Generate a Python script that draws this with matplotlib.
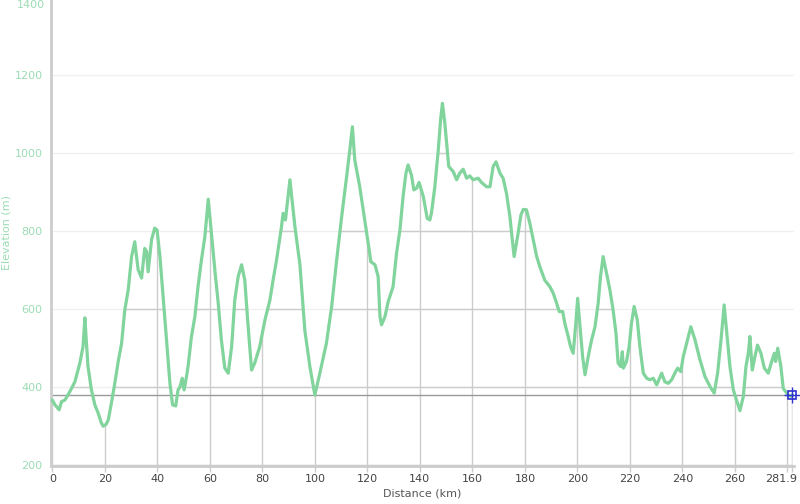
import numpy as np
import matplotlib
matplotlib.use("Agg")
import matplotlib.pyplot as plt
from matplotlib.patches import Polygon
import matplotlib.transforms as mtransforms

distance_km = [0, 1, 2.6, 3.5, 4.8, 6.7, 8.6, 10.5, 11.7, 12.4, 13.0, 13.6, 14.9, 16.2, 17.5,
               18.7, 19.4, 20.5, 21.3, 22.5, 23.8, 25.1, 26.4, 27.6, 28.9, 30.2, 31.4, 32.7,
               34.0, 35.2, 35.9, 36.5, 37.8, 39.0, 39.9, 41.0, 42.2, 43.5, 44.8, 45.8, 47.0,
               47.9, 48.6, 49.5, 50.2, 51.1, 51.7, 53.0, 54.3, 55.5, 56.8, 58.1, 59.4, 60.6,
               61.9, 63.2, 64.4, 65.7, 67.0, 68.3, 69.5, 70.8, 72.1, 73.3, 74.6, 75.9, 77.1,
               79.0, 81.0, 82.9, 84.1, 85.4, 87.3, 87.9, 88.8, 90.5, 92.4, 94.3, 96.2, 98.1,
               100.0, 101.9, 104.4, 106.4, 108.3, 110.2, 112.1, 113.3, 114.3, 115.2, 117.1,
               119.0, 120.7, 121.3, 122.9, 124.1, 124.8, 125.4, 126.7, 127.9, 129.8, 131.1,
               132.4, 133.6, 134.7, 135.5, 136.8, 137.7, 138.7, 139.7, 141.3, 142.8, 143.8,
               144.4, 145.7, 147.0, 148.0, 148.6, 149.5, 150.2, 151.0, 152.7, 154.0, 155.2,
               156.5, 157.8, 159.0, 160.3, 162.2, 163.5, 165.4, 166.7, 167.9, 169.0, 170.5,
               171.7, 173.0, 174.3, 175.2, 175.9, 177.2, 178.5, 179.4, 180.6, 181.9, 183.2,
               184.5, 185.7, 187.6, 189.5, 190.8, 192.1, 193.1, 194.4, 195.2, 196.5, 197.4,
               198.4, 199.4, 200.1, 201.0, 202.0, 202.9, 204.1, 205.4, 206.7, 207.9, 208.8,
               209.8, 211.1, 212.4, 213.6, 214.7, 215.5, 216.5, 217.1, 217.5, 218.7, 219.7,
               220.6, 221.6, 222.8, 223.8, 225.1, 226.4, 227.6, 228.9, 230.2, 232.1, 233.3,
               234.6, 235.9, 237.1, 238.2, 239.4, 240.3, 241.6, 243.2, 244.8, 246.7, 248.6,
               250.5, 252.1, 253.4, 254.7, 255.9, 256.8, 258.1, 259.4, 260.6, 261.9, 263.2,
               264.2, 265.1, 265.7, 266.6, 267.6, 268.6, 269.9, 271.2, 272.7, 274.0, 275.0,
               275.5, 276.3, 277.5, 278.4, 280.3, 281.6, 281.9]

elevation_m = [367, 355, 342, 363, 367, 389, 414, 462, 504, 578, 513, 453, 393, 355, 333,
               308, 300, 305, 316, 359, 410, 466, 513, 598, 649, 735, 773, 701,
               680, 756, 748, 696, 778, 808, 803, 735, 632, 521, 410, 355, 352,
               393, 401, 423, 393, 427, 453, 530, 581, 658, 726, 786, 882, 795,
               701, 615, 521, 449, 436, 504, 624, 684, 714, 675, 555, 444, 462,
               504, 573, 624, 675, 726, 812, 846, 829, 932, 812, 715, 545, 453,
               380, 436, 513, 607, 726, 837, 940, 1008, 1068, 983, 914,
               829, 752, 722, 714, 684, 581, 560, 581, 619, 658, 743,
               803, 889, 949, 970, 944, 906, 910, 925, 889, 833, 829,
               846, 914, 1008, 1094, 1128, 1077, 1026, 966, 953, 932, 949,
               959, 936, 942, 932, 936, 925, 914, 914, 966, 978, 949,
               936, 897, 837, 778, 735, 786, 842, 856, 855, 820, 778,
               735, 709, 674, 658, 641, 615, 594, 594, 564, 530, 504,
               487, 564, 628, 555, 478, 432, 478, 521, 555, 615, 684,
               735, 692, 649, 598, 538, 462, 453, 491, 449, 466, 504,
               564, 607, 573, 504, 436, 423, 419, 423, 406, 436, 414,
               410, 419, 436, 449, 440, 478, 513, 555, 521, 470, 427,
               402, 385, 436, 521, 611, 547, 453, 393, 367, 340, 376,
               453, 487, 530, 444, 478, 508, 487, 449, 436, 466, 487,
               466, 500, 453, 397, 380, 376, 380]

x_ticks = [0, 20, 40, 60, 80, 100, 120, 140, 160, 180, 200, 220, 240, 260, 280, 281.9]
x_tick_labels = ["0", "20", "40", "60", "80", "100", "120", "140", "160", "180", "200",
                 "220", "240", "260", "", "281.9"]
y_ticks = [200, 400, 600, 800, 1000, 1200]
end_km = 281.9
end_elev = 380

line_color = "#80d49c"
ytick_color = "#9cdcb4"

fig = plt.figure(figsize=(8, 5.04), dpi=100)
ax = fig.add_axes([51 / 800, 38 / 504, 743 / 800, 466 / 504])
xmin, xmax = -0.5, 282.5
ymin, ymax = 198, 1393
ax.set_xlim(xmin, xmax)
ax.set_ylim(ymin, ymax)

# faint horizontal grid across
for yv in y_ticks + [1400]:
    ax.axhline(yv, color="#f0f0f0", lw=1, zorder=0)

# area under curve (for darker grid)
xs = np.array(distance_km)
ys = np.array(elevation_m)
poly_pts = np.vstack([np.column_stack([xs, ys]), [[xs[-1], ymin], [xs[0], ymin]]])
poly = Polygon(poly_pts, closed=True, facecolor="none", edgecolor="none",
               transform=ax.transData)
ax.add_patch(poly)
for yv in y_ticks:
    l = ax.axhline(yv, color="#cccccc", lw=1, zorder=1)
    l.set_clip_path(poly)
for xv in x_ticks:
    l = ax.axvline(xv, color="#cccccc", lw=1, zorder=1)
    l.set_clip_path(poly)

# horizontal line at current elevation
ax.axhline(end_elev, color="#999999", lw=1, zorder=2)

ax.plot(distance_km, elevation_m, color=line_color, lw=2.3, zorder=3,
        solid_joinstyle="round")

# end marker
ax.plot([end_km], [end_elev], marker="s", ms=6, mfc="none", mec="#3030d0", mew=1.2,
        zorder=5, clip_on=False)
ax.plot([end_km], [end_elev], marker="+", ms=11, mec="#3030d0", mew=1.0,
        zorder=5, clip_on=False)

for s in ["top", "right"]:
    ax.spines[s].set_visible(False)
for s in ["left", "bottom"]:
    ax.spines[s].set_color("#cccccc")
    ax.spines[s].set_linewidth(2)

ax.set_xticks(x_ticks)
ax.set_xticklabels(x_tick_labels)
ax.set_yticks(y_ticks)
ax.tick_params(axis="x", colors="#cccccc", labelcolor="#444444", labelsize=8,
               length=4, width=1, pad=2)
ax.tick_params(axis="y", length=0, labelcolor=ytick_color, labelsize=8, pad=6)

# shift last x label left
lbl = ax.get_xticklabels()[-1]
offset = mtransforms.ScaledTranslation(-11 / 100, 0, fig.dpi_scale_trans)
lbl.set_transform(lbl.get_transform() + offset)

fig.text(45 / 800, 1 - 5 / 504, "1400", color=ytick_color, fontsize=8,
         ha="right", va="center")

ax.set_xlabel("Distance (km)", color="#555555", fontsize=8, labelpad=3)
ax.set_ylabel("Elevation (m)", color=ytick_color, fontsize=8)
ax.yaxis.set_label_coords((12 - 51) / 743, 0.5)

fig.savefig("out.png", dpi=100)
